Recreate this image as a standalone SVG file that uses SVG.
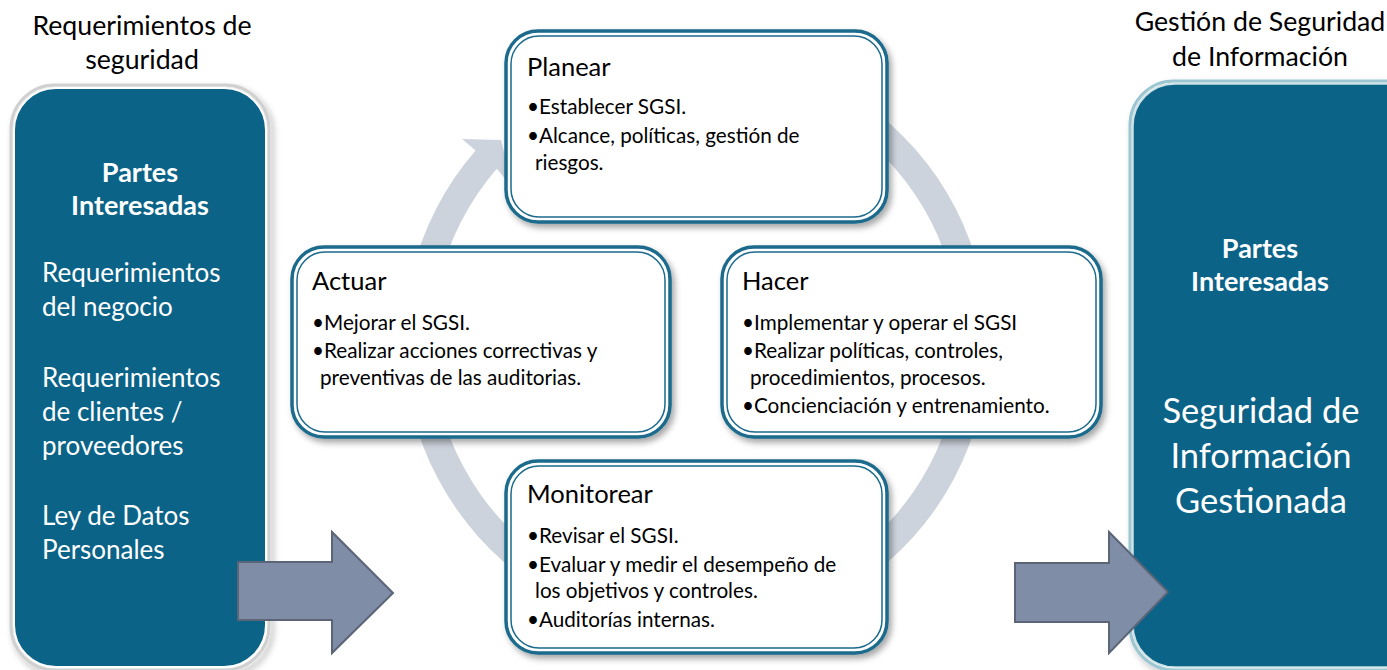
<svg xmlns="http://www.w3.org/2000/svg" width="1387" height="670" viewBox="0 0 1387 670">
<defs>
<style>
.t{font-family:Lato,"Open Sans","Liberation Sans",sans-serif;fill:#000}
.h{font-size:25.5px}
.b{font-size:20.7px}
.w{font-family:Lato,"Open Sans","Liberation Sans",sans-serif;fill:#fff}
.cap{font-family:Lato,"Open Sans","Liberation Sans",sans-serif;fill:#000;font-size:26.7px}
.big{fill:#0B6388}
.po{fill:#fff;stroke:#1B6A8C;stroke-width:3.5}
.pi{fill:none;stroke:#1B6A8C;stroke-width:1.5}
.arr{fill:#7F8DA6;stroke:#5B6577;stroke-width:2}
</style>
<filter id="sh" x="-10%" y="-10%" width="125%" height="125%">
<feDropShadow dx="3" dy="4" stdDeviation="3" flood-color="#000" flood-opacity="0.35"/>
</filter>
</defs>
<rect width="1387" height="670" fill="#fff"/>

<g id="captions">
<text class="cap" x="142" y="35" text-anchor="middle">Requerimientos de</text>
<text class="cap" x="142" y="69" text-anchor="middle">seguridad</text>
<text class="cap" x="1260" y="31" text-anchor="middle">Gestión de Seguridad</text>
<text class="cap" x="1260" y="66" text-anchor="middle">de Información</text>
</g>

<g id="left-box">
<rect x="11" y="85" width="258" height="585" rx="44" fill="none" stroke="#d0d0d0" stroke-width="3" filter="url(#sh)"/>
<rect x="14" y="88" width="252" height="579" rx="42" class="big" stroke="#fff" stroke-width="2"/>
<text class="w" x="140" y="182" text-anchor="middle" font-size="27" font-weight="bold">Partes</text>
<text class="w" x="140" y="215" text-anchor="middle" font-size="27" font-weight="bold">Interesadas</text>
<text class="w" font-size="26"><tspan x="42" y="282">Requerimientos</tspan><tspan x="42" y="316">del negocio</tspan><tspan x="42" y="387">Requerimientos</tspan><tspan x="42" y="421">de clientes /</tspan><tspan x="42" y="455">proveedores</tspan><tspan x="42" y="525">Ley de Datos</tspan><tspan x="42" y="559">Personales</tspan></text>
</g>

<g id="right-box">
<rect x="1130" y="81" width="300" height="589" rx="44" fill="none" stroke="#9CC7D2" stroke-width="3" filter="url(#sh)"/>
<rect x="1133" y="84" width="294" height="583" rx="42" class="big" stroke="#c9e2e8" stroke-width="1.5"/>
<text class="w" x="1260" y="258" text-anchor="middle" font-size="27" font-weight="bold">Partes</text>
<text class="w" x="1260" y="291" text-anchor="middle" font-size="27" font-weight="bold">Interesadas</text>
<text class="w" x="1261" y="423" text-anchor="middle" font-size="34.5">Seguridad de</text>
<text class="w" x="1261" y="468" text-anchor="middle" font-size="34.5">Información</text>
<text class="w" x="1261" y="513" text-anchor="middle" font-size="34.5">Gestionada</text>
</g>

<g id="connectors">
<g id="cycle" fill="#CDD3DC">
<path d="M 596.1 67.6 A 292 292 0 1 1 475.6 150.4 L 462 139 L 501 140 L 513 188 L 496.8 168.8 A 264 264 0 1 0 605.7 93.9 Z"/>
</g>
<polygon class="arr" points="238,562 332,562 332,532 393,593 332,653 332,620 238,620"/>
<polygon class="arr" points="1015,563 1109,563 1109,532 1168,592 1109,653 1109,622 1015,622"/>
</g>

<g id="planear" filter="url(#sh)">
<rect class="po" x="506" y="31" width="381" height="191" rx="32"/>
<rect class="pi" x="511" y="36" width="371" height="181" rx="28"/>
</g>
<g id="planear-text">
<text class="t h" x="527" y="76">Planear</text>
<text class="t b"><tspan x="527" y="114">•Establecer SGSI.</tspan><tspan x="527" y="143">•Alcance, políticas, gestión de</tspan><tspan x="535" y="170">riesgos.</tspan></text>
</g>

<g id="actuar" filter="url(#sh)">
<rect class="po" x="292" y="247" width="378" height="190" rx="32"/>
<rect class="pi" x="297" y="252" width="368" height="180" rx="28"/>
</g>
<g id="actuar-text">
<text class="t h" x="312" y="290">Actuar</text>
<text class="t b"><tspan x="312" y="330">•Mejorar el SGSI.</tspan><tspan x="312" y="358">•Realizar acciones correctivas y</tspan><tspan x="320" y="385">preventivas de las auditorias.</tspan></text>
</g>

<g id="hacer" filter="url(#sh)">
<rect class="po" x="722" y="247" width="379" height="190" rx="32"/>
<rect class="pi" x="727" y="252" width="369" height="180" rx="28"/>
</g>
<g id="hacer-text">
<text class="t h" x="742" y="290">Hacer</text>
<text class="t b"><tspan x="742" y="330">•Implementar y operar el SGSI</tspan><tspan x="742" y="358">•Realizar políticas, controles,</tspan><tspan x="750" y="385">procedimientos, procesos.</tspan><tspan x="742" y="413">•Concienciación y entrenamiento.</tspan></text>
</g>

<g id="monitorear" filter="url(#sh)">
<rect class="po" x="506" y="461" width="381" height="192" rx="32"/>
<rect class="pi" x="511" y="466" width="371" height="182" rx="28"/>
</g>
<g id="monitorear-text">
<text class="t h" x="527" y="503">Monitorear</text>
<text class="t b"><tspan x="527" y="543">•Revisar el SGSI.</tspan><tspan x="527" y="572">•Evaluar y medir el desempeño de</tspan><tspan x="535" y="598">los objetivos y controles.</tspan><tspan x="527" y="627">•Auditorías internas.</tspan></text>
</g>
</svg>
